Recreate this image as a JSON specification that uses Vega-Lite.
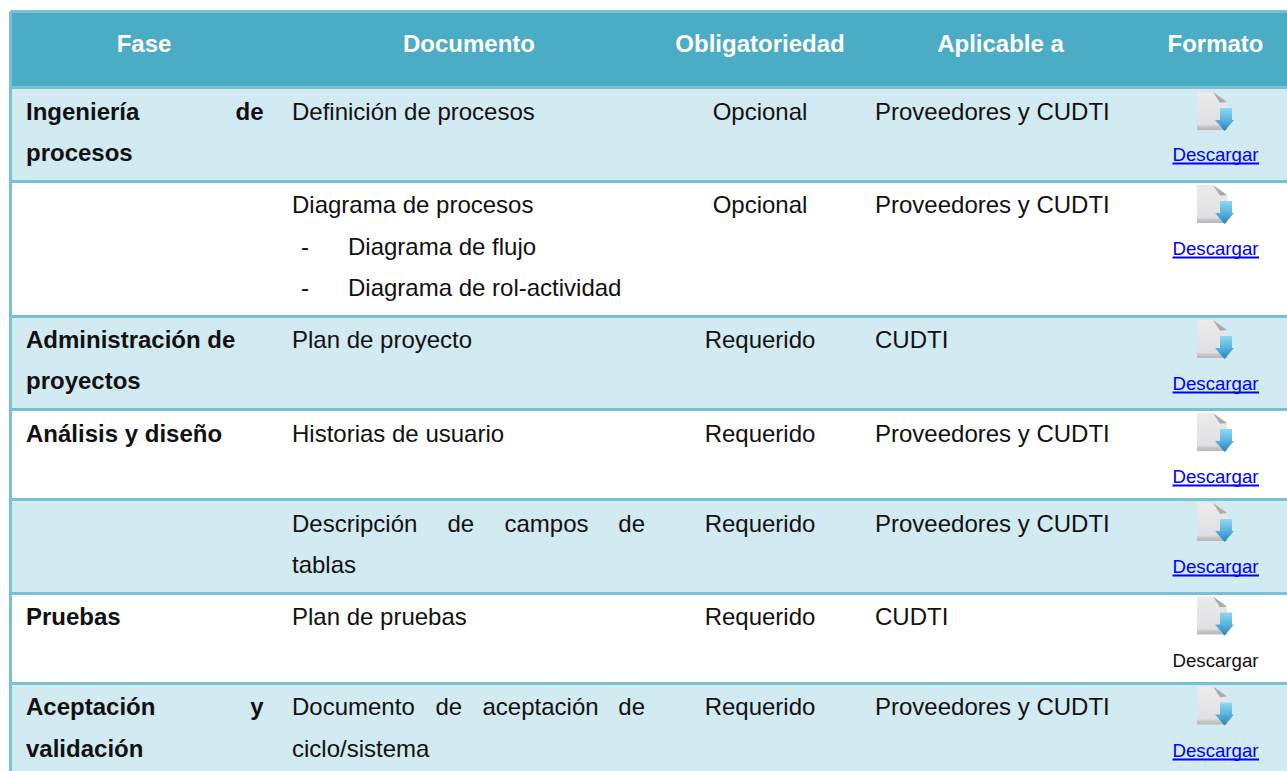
{
"$schema":"https://vega.github.io/schema/vega-lite/v6.json",
"width":1287,"height":771,"padding":0,"autosize":"none","background":"white",
"config":{"view":{"stroke":null},"text":{"font":"Liberation Sans"}},
"datasets":{
"bands":[{"kind":"header","from":1,"to":3,"left":1,"right":20},{"kind":"shaded","from":3,"to":7,"left":1,"right":20},{"kind":"plain","from":7,"to":12,"left":1,"right":20},{"kind":"shaded","from":12,"to":16,"left":1,"right":20},{"kind":"plain","from":16,"to":20,"left":1,"right":20},{"kind":"shaded","from":20,"to":24,"left":1,"right":20},{"kind":"plain","from":24,"to":28,"left":1,"right":20},{"kind":"shaded","from":28,"to":32,"left":1,"right":20}],
"hlines":[{"line":1,"left":1,"right":20},{"line":3,"left":1,"right":20},{"line":7,"left":1,"right":20},{"line":12,"left":1,"right":20},{"line":16,"left":1,"right":20},{"line":20,"left":1,"right":20},{"line":24,"left":1,"right":20},{"line":28,"left":1,"right":20}],
"vlines":[{"col":1,"from":1,"to":32}],
"headers":[{"t":"Fase","col":3,"line":2},{"t":"Documento","col":10,"line":2},{"t":"Obligatoriedad","col":14,"line":2},{"t":"Aplicable a","col":16,"line":2},{"t":"Formato","col":18,"line":2}],
"boldLeft":[{"t":"Ingeniería","col":2,"line":5},{"t":"procesos","col":2,"line":6},{"t":"Administración de","col":2,"line":14},{"t":"proyectos","col":2,"line":15},{"t":"Análisis y diseño","col":2,"line":18},{"t":"Pruebas","col":2,"line":26},{"t":"Aceptación","col":2,"line":30},{"t":"validación","col":2,"line":31}],
"boldRight":[{"t":"de","col":4,"line":5},{"t":"y","col":4,"line":30}],
"bodyLeft":[{"t":"Definición de procesos","col":5,"line":5},{"t":"Diagrama de procesos","col":5,"line":9},{"t":"-","col":6,"line":10},{"t":"Diagrama de flujo","col":7,"line":10},{"t":"-","col":6,"line":11},{"t":"Diagrama de rol-actividad","col":7,"line":11},{"t":"Plan de proyecto","col":5,"line":14},{"t":"Historias de usuario","col":5,"line":18},{"t":"Descripción","col":5,"line":22},{"t":"de","col":9,"line":22},{"t":"campos","col":12,"line":22},{"t":"tablas","col":5,"line":23},{"t":"Plan de pruebas","col":5,"line":26},{"t":"Documento","col":5,"line":30},{"t":"de","col":8,"line":30},{"t":"aceptación","col":11,"line":30},{"t":"ciclo/sistema","col":5,"line":31},
{"t":"Proveedores y CUDTI","col":15,"line":5},{"t":"Proveedores y CUDTI","col":15,"line":9},{"t":"CUDTI","col":15,"line":14},{"t":"Proveedores y CUDTI","col":15,"line":18},{"t":"Proveedores y CUDTI","col":15,"line":22},{"t":"CUDTI","col":15,"line":26},{"t":"Proveedores y CUDTI","col":15,"line":30}],
"bodyRight":[{"t":"de","col":13,"line":22},{"t":"de","col":13,"line":30}],
"bodyCenter":[{"t":"Opcional","col":14,"line":5},{"t":"Opcional","col":14,"line":9},{"t":"Requerido","col":14,"line":14},{"t":"Requerido","col":14,"line":18},{"t":"Requerido","col":14,"line":22},{"t":"Requerido","col":14,"line":26},{"t":"Requerido","col":14,"line":30}],
"links":[{"t":"Descargar","col":18,"line":6,"left":17,"right":19},{"t":"Descargar","col":18,"line":10,"left":17,"right":19},{"t":"Descargar","col":18,"line":15.5,"left":17,"right":19},{"t":"Descargar","col":18,"line":19,"left":17,"right":19},{"t":"Descargar","col":18,"line":23,"left":17,"right":19},{"t":"Descargar","col":18,"line":31,"left":17,"right":19}],
"plainLinks":[{"t":"Descargar","col":18,"line":27}],
"icons":[{"col":18,"line":4},{"col":18,"line":8},{"col":18,"line":13},{"col":18,"line":17},{"col":18,"line":21},{"col":18,"line":25},{"col":18,"line":29}]
},
"encoding":{},
"layer":[
{"data":{"name":"bands"},"mark":{"type":"rect"},"encoding":{
"x":{"field":"left","type":"quantitative","axis":null,"scale":{"domain":[0,1,2,3,4,5,6,7,8,9,10,11,12,13,14,15,16,17,18,19,20],"range":[0,10.5,26,144,263.5,292,301,348,435.5,447.5,469,482.5,504.5,645,760,875,1000.5,1172.5,1215.5,1259,1287],"nice":false,"zero":false}},
"x2":{"field":"right"},
"y":{"field":"from","type":"quantitative","axis":null,"scale":{"domain":[0,1,2,3,4,5,6,7,8,9,10,11,12,13,14,15,15.5,16,17,18,19,20,21,22,23,24,25,26,27,28,29,30,31,32],"range":[0,11.5,52,87.5,111.5,120,161,181.5,204.5,213,255,296,316.5,339.5,348,389,390,409.5,432.5,442,483,499.5,522.5,532,573,593.5,616,625,667,683.5,706,715,757,771],"nice":false,"zero":false}},
"y2":{"field":"to"},
"color":{"field":"kind","type":"nominal","legend":null,"scale":{"domain":["header","shaded","plain"],"range":["#4BACC6","#D2EAF1","#FFFFFF"]}}
}},
{"data":{"name":"hlines"},"mark":{"type":"rule","color":"#78C0D4","strokeWidth":3},"encoding":{"x":{"field":"left","type":"quantitative"},"x2":{"field":"right"},"y":{"field":"line","type":"quantitative"}}},
{"data":{"name":"vlines"},"mark":{"type":"rule","color":"#78C0D4","strokeWidth":3},"encoding":{"x":{"field":"col","type":"quantitative"},"y":{"field":"from","type":"quantitative"},"y2":{"field":"to"}}},
{"data":{"name":"headers"},"mark":{"type":"text","font":"Liberation Sans","fontSize":24,"fontWeight":"bold","align":"center","baseline":"alphabetic","color":"#FFFFFF"},"encoding":{"x":{"field":"col","type":"quantitative"},"y":{"field":"line","type":"quantitative"},"text":{"field":"t"}}},
{"data":{"name":"boldLeft"},"mark":{"type":"text","font":"Liberation Sans","fontSize":24,"fontWeight":"bold","align":"left","baseline":"alphabetic","color":"#111111"},"encoding":{"x":{"field":"col","type":"quantitative"},"y":{"field":"line","type":"quantitative"},"text":{"field":"t"}}},
{"data":{"name":"boldRight"},"mark":{"type":"text","font":"Liberation Sans","fontSize":24,"fontWeight":"bold","align":"right","baseline":"alphabetic","color":"#111111"},"encoding":{"x":{"field":"col","type":"quantitative"},"y":{"field":"line","type":"quantitative"},"text":{"field":"t"}}},
{"data":{"name":"bodyLeft"},"mark":{"type":"text","font":"Liberation Sans","fontSize":24,"align":"left","baseline":"alphabetic","color":"#111111"},"encoding":{"x":{"field":"col","type":"quantitative"},"y":{"field":"line","type":"quantitative"},"text":{"field":"t"}}},
{"data":{"name":"bodyRight"},"mark":{"type":"text","font":"Liberation Sans","fontSize":24,"align":"right","baseline":"alphabetic","color":"#111111"},"encoding":{"x":{"field":"col","type":"quantitative"},"y":{"field":"line","type":"quantitative"},"text":{"field":"t"}}},
{"data":{"name":"bodyCenter"},"mark":{"type":"text","font":"Liberation Sans","fontSize":24,"align":"center","baseline":"alphabetic","color":"#111111"},"encoding":{"x":{"field":"col","type":"quantitative"},"y":{"field":"line","type":"quantitative"},"text":{"field":"t"}}},
{"data":{"name":"links"},"mark":{"type":"text","font":"Liberation Sans","fontSize":18.67,"align":"center","baseline":"alphabetic","color":"#0000FF"},"encoding":{"x":{"field":"col","type":"quantitative"},"y":{"field":"line","type":"quantitative"},"text":{"field":"t"}}},
{"data":{"name":"links"},"mark":{"type":"rule","color":"#0000FF","strokeWidth":1.8,"yOffset":2.5},"encoding":{"x":{"field":"left","type":"quantitative"},"x2":{"field":"right"},"y":{"field":"line","type":"quantitative"}}},
{"data":{"name":"plainLinks"},"mark":{"type":"text","font":"Liberation Sans","fontSize":18.67,"align":"center","baseline":"alphabetic","color":"#111111"},"encoding":{"x":{"field":"col","type":"quantitative"},"y":{"field":"line","type":"quantitative"},"text":{"field":"t"}}},
{"data":{"name":"icons"},"mark":{"type":"point","filled":true,"size":1600,"opacity":1,"strokeWidth":0,"shape":"M-0.925,-0.975L-0.125,-0.975L0.575,-0.475L0.575,0.925L-0.925,0.925Z","fill":{"gradient":"linear","x1":0,"y1":0,"x2":0,"y2":1,"stops":[{"offset":0,"color":"#ECECEC"},{"offset":0.85,"color":"#E0E0E3"},{"offset":0.92,"color":"#C4C4C4"},{"offset":1,"color":"#B8B8B8"}]}},"encoding":{"x":{"field":"col","type":"quantitative"},"y":{"field":"line","type":"quantitative"}}},
{"data":{"name":"icons"},"mark":{"type":"point","filled":true,"size":1600,"opacity":1,"strokeWidth":0,"shape":"M-0.125,-0.975L0.575,-0.475L0.225,-0.44Z","fill":"#ABABAB"},"encoding":{"x":{"field":"col","type":"quantitative"},"y":{"field":"line","type":"quantitative"}}},
{"data":{"name":"icons"},"mark":{"type":"point","filled":true,"size":1600,"opacity":1,"strokeWidth":0,"shape":"M0.225,-0.175L0.825,-0.175L0.825,0.425L0.925,0.425L0.45,0.975L-0.025,0.425L0.225,0.425Z","fill":{"gradient":"linear","x1":0,"y1":0,"x2":0,"y2":1,"stops":[{"offset":0,"color":"#8FD8F0"},{"offset":0.5,"color":"#5CB4DE"},{"offset":1,"color":"#2384BC"}]}},"encoding":{"x":{"field":"col","type":"quantitative"},"y":{"field":"line","type":"quantitative"}}}
]
}
